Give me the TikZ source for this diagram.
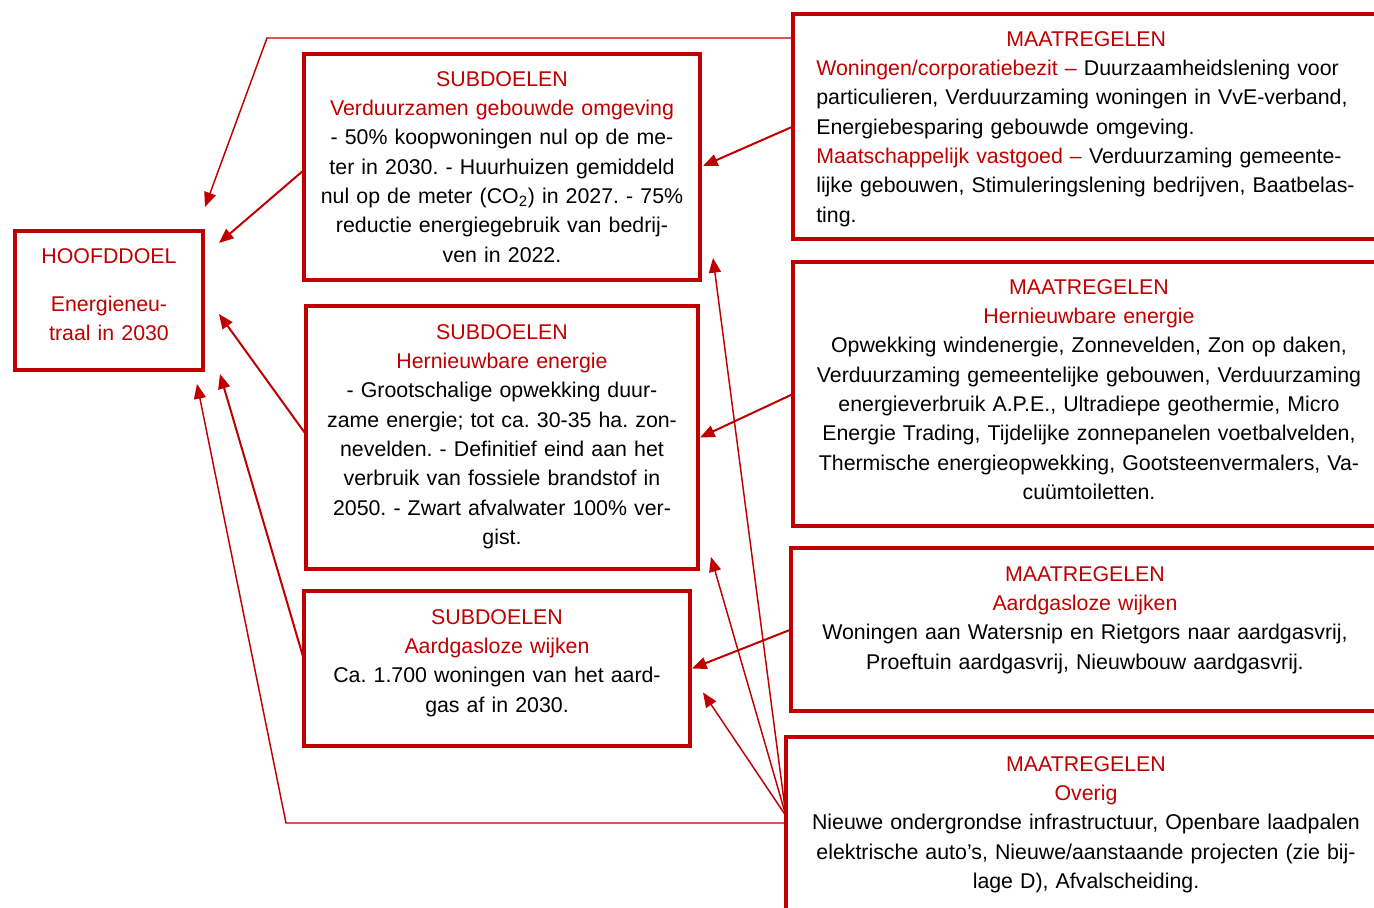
\documentclass[tikz,border=0pt]{standalone}
\usepackage{fontspec}
\setmainfont{Liberation Sans}
\frenchspacing
\usepackage{tikz}
\usetikzlibrary{arrows.meta,calc}
\definecolor{rood}{RGB}{192,0,0}
\newcommand{\kop}[1]{\textcolor{rood}{#1}}
\tikzstyle{kader} = [rectangle, draw=rood, line width=3.3pt, inner sep=0pt, outer sep=0pt]
\tikzstyle{tekst} = [inner sep=0pt, align=center, anchor=base, font=\fontsize{16pt}{22pt}\selectfont]
\tikzstyle{pijl} = [draw=rood, line width=1.5pt, -{Triangle[length=11pt,width=9pt]}]
\tikzstyle{pijl_dun} = [draw=rood, line width=1.1pt, -{Triangle[length=11pt,width=9pt]}]

\begin{document}
\begin{tikzpicture}[x=0.75pt,y=-0.75pt]
	\useasboundingbox (0,0) rectangle (1374,907);
	\node (hd) at (109,300.5) [kader, minimum width=141pt, minimum height=104.25pt] {};
	\node (s1) at (502,167) [kader, minimum width=297pt, minimum height=169.5pt] {};
	\node (s2) at (502,437.5) [kader, minimum width=294pt, minimum height=197.25pt] {};
	\node (s3) at (497,668.5) [kader, minimum width=289.5pt, minimum height=116.25pt] {};
	\node (m1) at (1091.5,126.5) [kader, minimum width=447.75pt, minimum height=168.75pt] {};
	\node (m2) at (1091.5,394) [kader, minimum width=447.75pt, minimum height=198pt] {};
	\node (m3) at (1090.5,629.5) [kader, minimum width=449.25pt, minimum height=122.25pt] {};
	\node (m4) at (1088,838.5) [kader, minimum width=453pt, minimum height=152.25pt] {};

	\node (hd_tekst) at (109,263) [tekst, text width=135pt] {\kop{HOOFDDOEL}\\[14pt]\kop{Energieneu-}\\\kop{traal in 2030}};
	\node (s1_tekst) at (502,86) [tekst, text width=290pt] {\kop{SUBDOELEN}\\\kop{Verduurzamen gebouwde omgeving}\\- 50\% koopwoningen nul op de me-\\ter in 2030. - Huurhuizen gemiddeld\\nul op de meter (CO\textsubscript{2}) in 2027. - 75\%\\reductie energiegebruik van bedrij-\\ven in 2022.};
	\node (s2_tekst) at (502,339) [tekst, text width=290pt] {\kop{SUBDOELEN}\\\kop{Hernieuwbare energie}\\- Grootschalige opwekking duur-\\zame energie; tot ca. 30-35 ha. zon-\\nevelden. - Definitief eind aan het\\verbruik van fossiele brandstof in\\2050. - Zwart afvalwater 100\% ver-\\gist.};
	\node (s3_tekst) at (497,624) [tekst, text width=285pt] {\kop{SUBDOELEN}\\\kop{Aardgasloze wijken}\\Ca. 1.700 woningen van het aard-\\gas af in 2030.};
	\node (m1_tekst) at (816,46) [tekst, anchor=base west, text width=405pt, align=left] {{\centering\kop{MAATREGELEN}\par}\kop{Woningen/corporatiebezit –} Duurzaamheidslening voor\\particulieren, Verduurzaming woningen in VvE-verband,\\Energiebesparing gebouwde omgeving.\\\kop{Maatschappelijk vastgoed –} Verduurzaming gemeente-\\lijke gebouwen, Stimuleringslening bedrijven, Baatbelas-\\ting.};
	\node (m2_tekst) at (1089,294) [tekst, text width=430pt] {\kop{MAATREGELEN}\\\kop{Hernieuwbare energie}\\Opwekking windenergie, Zonnevelden, Zon op daken,\\Verduurzaming gemeentelijke gebouwen, Verduurzaming\\energieverbruik A.P.E., Ultradiepe geothermie, Micro\\Energie Trading, Tijdelijke zonnepanelen voetbalvelden,\\Thermische energieopwekking, Gootsteenvermalers, Va-\\cuümtoiletten.};
	\node (m3_tekst) at (1085,581) [tekst, text width=430pt] {\kop{MAATREGELEN}\\\kop{Aardgasloze wijken}\\Woningen aan Watersnip en Rietgors naar aardgasvrij,\\Proeftuin aardgasvrij, Nieuwbouw aardgasvrij.};
	\node (m4_tekst) at (1086,771) [tekst, text width=430pt] {\kop{MAATREGELEN}\\\kop{Overig}\\Nieuwe ondergrondse infrastructuur, Openbare laadpalen\\elektrische auto’s, Nieuwe/aanstaande projecten (zie bij-\\lage D), Afvalscheiding.};

	\coordinate (knik1) at (267,38);
	\coordinate (knik2) at (286,823);
	\draw[pijl_dun] ($(m1.north west)+(0,24)$) -- (knik1) -- ($(hd.north east)+(2,-24)$);
	\draw[pijl] ($(s1.west)+(0,3)$) -- ($(hd.east)+(16,-57.5)$);
	\draw[pijl] ($(s2.west)+(0,-3)$) -- ($(hd.east)+(16,13.5)$);
	\draw[pijl] ($(s3.west)+(0,-8.5)$) -- ($(hd.south east)+(17,4)$);
	\draw[pijl_dun] ($(m4.north west)+(0,86)$) -- (knik2) -- ($(hd.south east)+(-6,14)$);
	\draw[pijl] (m1.west) -- ($(s1.east)+(3,-1)$);
	\draw[pijl] (m2.west) -- ($(s2.east)+(2,0)$);
	\draw[pijl] (m3.west) -- ($(s3.east)+(2,0)$);
	\draw[pijl_dun] ($(m4.north west)+(0,79)$) -- ($(s1.south east)+(13,-22)$);
	\draw[pijl_dun] ($(m4.north west)+(0,79)$) -- ($(s2.south east)+(13,-12)$);
	\draw[pijl_dun] ($(m4.north west)+(0,79)$) -- ($(s3.east)+(13,24)$);
\end{tikzpicture}
\end{document}
